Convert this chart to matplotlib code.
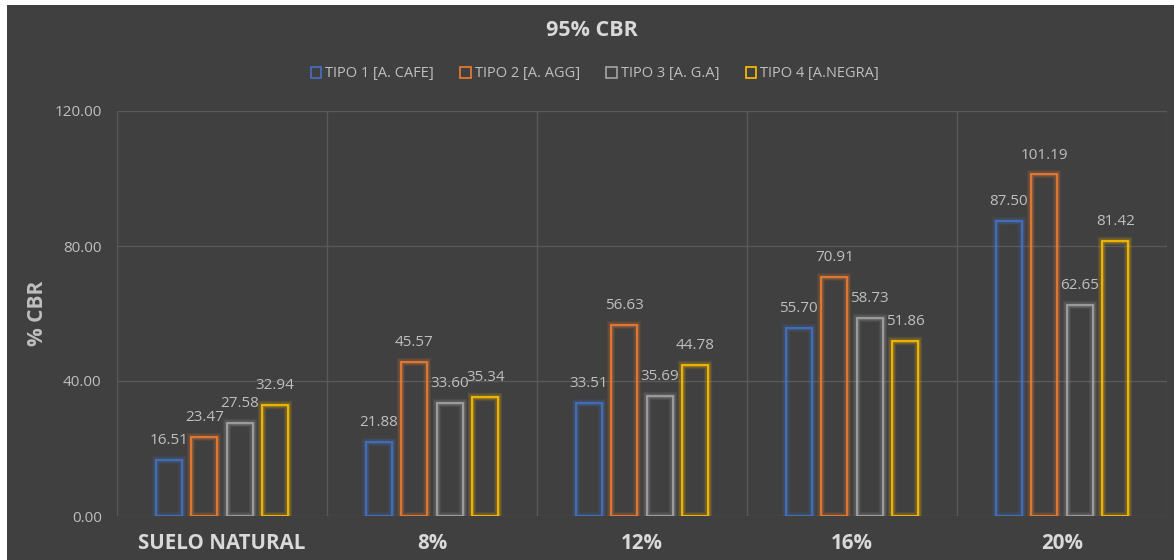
import matplotlib
matplotlib.use("Agg")
import matplotlib.pyplot as plt
from matplotlib.patches import Rectangle
import numpy as np

categories = ["SUELO NATURAL", "8%", "12%", "16%", "20%"]
series_names = ["TIPO 1 [A. CAFE]", "TIPO 2 [A. AGG]", "TIPO 3 [A. G.A]", "TIPO 4 [A.NEGRA]"]
tipo1 = [16.51, 21.88, 33.51, 55.70, 87.50]
tipo2 = [23.47, 45.57, 56.63, 70.91, 101.19]
tipo3 = [27.58, 33.60, 35.69, 58.73, 62.65]
tipo4 = [32.94, 35.34, 44.78, 51.86, 81.42]
series_values = [tipo1, tipo2, tipo3, tipo4]
colors = ["#4472C4", "#ED7D31", "#A5A5A5", "#FFC000"]
yticks = [0, 40, 80, 120]

BG = "#404040"
GRID = "#595959"
TXT = "#BFBFBF"
TXT2 = "#D9D9D9"

plt.rcParams['font.family'] = ['Open Sans', 'DejaVu Sans']

fig = plt.figure(figsize=(11.74, 5.60), dpi=100)
fig.patch.set_facecolor("white")
fig.add_artist(Rectangle((7/1174, 0), 1 - 7/1174, 555/560, transform=fig.transFigure,
                         facecolor=BG, edgecolor="none", zorder=0))

ax = fig.add_axes([117/1174, 44/560, 1050/1174, 405/560])
ax.set_facecolor(BG)
ax.patch.set_alpha(0)

x = np.arange(len(categories))
step = 0.169
width = 0.124
for i, (vals, c) in enumerate(zip(series_values, colors)):
    pos = x + (i - 1.5) * step
    # glow
    for lw, a in [(6, 0.10), (4, 0.15), (2.5, 0.25)]:
        ax.bar(pos, vals, width, facecolor="none", edgecolor=c, linewidth=lw, alpha=a, zorder=2)
    ax.bar(pos, vals, width, facecolor="none", edgecolor=c, linewidth=1.2, zorder=3)
    for p, v in zip(pos, vals):
        ax.annotate(f"{v:.2f}", (p, v), xytext=(0, 14), textcoords="offset points",
                    ha="center", va="center", color=TXT, fontsize=11, zorder=4)

ax.set_xlim(-0.5, len(categories) - 0.5)
ax.set_ylim(0, 120)
ax.set_yticks(yticks)
ax.set_yticklabels([f"{t:.2f}" for t in yticks])
ax.set_xticks(x)
ax.set_xticklabels(categories, fontsize=14.8, fontweight="bold", color=TXT2)
ax.tick_params(axis="y", length=0, pad=11, labelsize=11, labelcolor=TXT)
ax.tick_params(axis="x", length=0, pad=12)
ax.set_xticks(np.arange(len(categories) + 1) - 0.5, minor=True)
ax.tick_params(axis="x", which="minor", length=0)
ax.grid(axis="y", color=GRID, linewidth=1, zorder=1)
ax.grid(axis="x", which="minor", color=GRID, linewidth=1, zorder=1)
ax.grid(axis="x", which="major", visible=False)
for s in ax.spines.values():
    s.set_visible(False)
ax.set_axisbelow(True)

ax.set_ylabel("% CBR", fontsize=15, fontweight="bold", color=TXT)
ax.yaxis.set_label_coords(-69/1050, 0.5)

fig.text(592/1174, 1 - 30/560, "95% CBR", ha="center", va="center", fontsize=15.5,
         fontweight="bold", color=TXT2)

handles = [Rectangle((0, 0), 1, 1, facecolor="none", edgecolor=c, linewidth=1.2) for c in colors]
leg = fig.legend(handles, series_names, loc="center", bbox_to_anchor=(595/1174, 1 - 74/560),
                 ncol=4, frameon=False, fontsize=10.5, handlelength=0.7, handleheight=0.7,
                 handletextpad=0.3, columnspacing=1.8, labelcolor=TXT)

fig.savefig("out.png", dpi=100, facecolor=fig.get_facecolor())
